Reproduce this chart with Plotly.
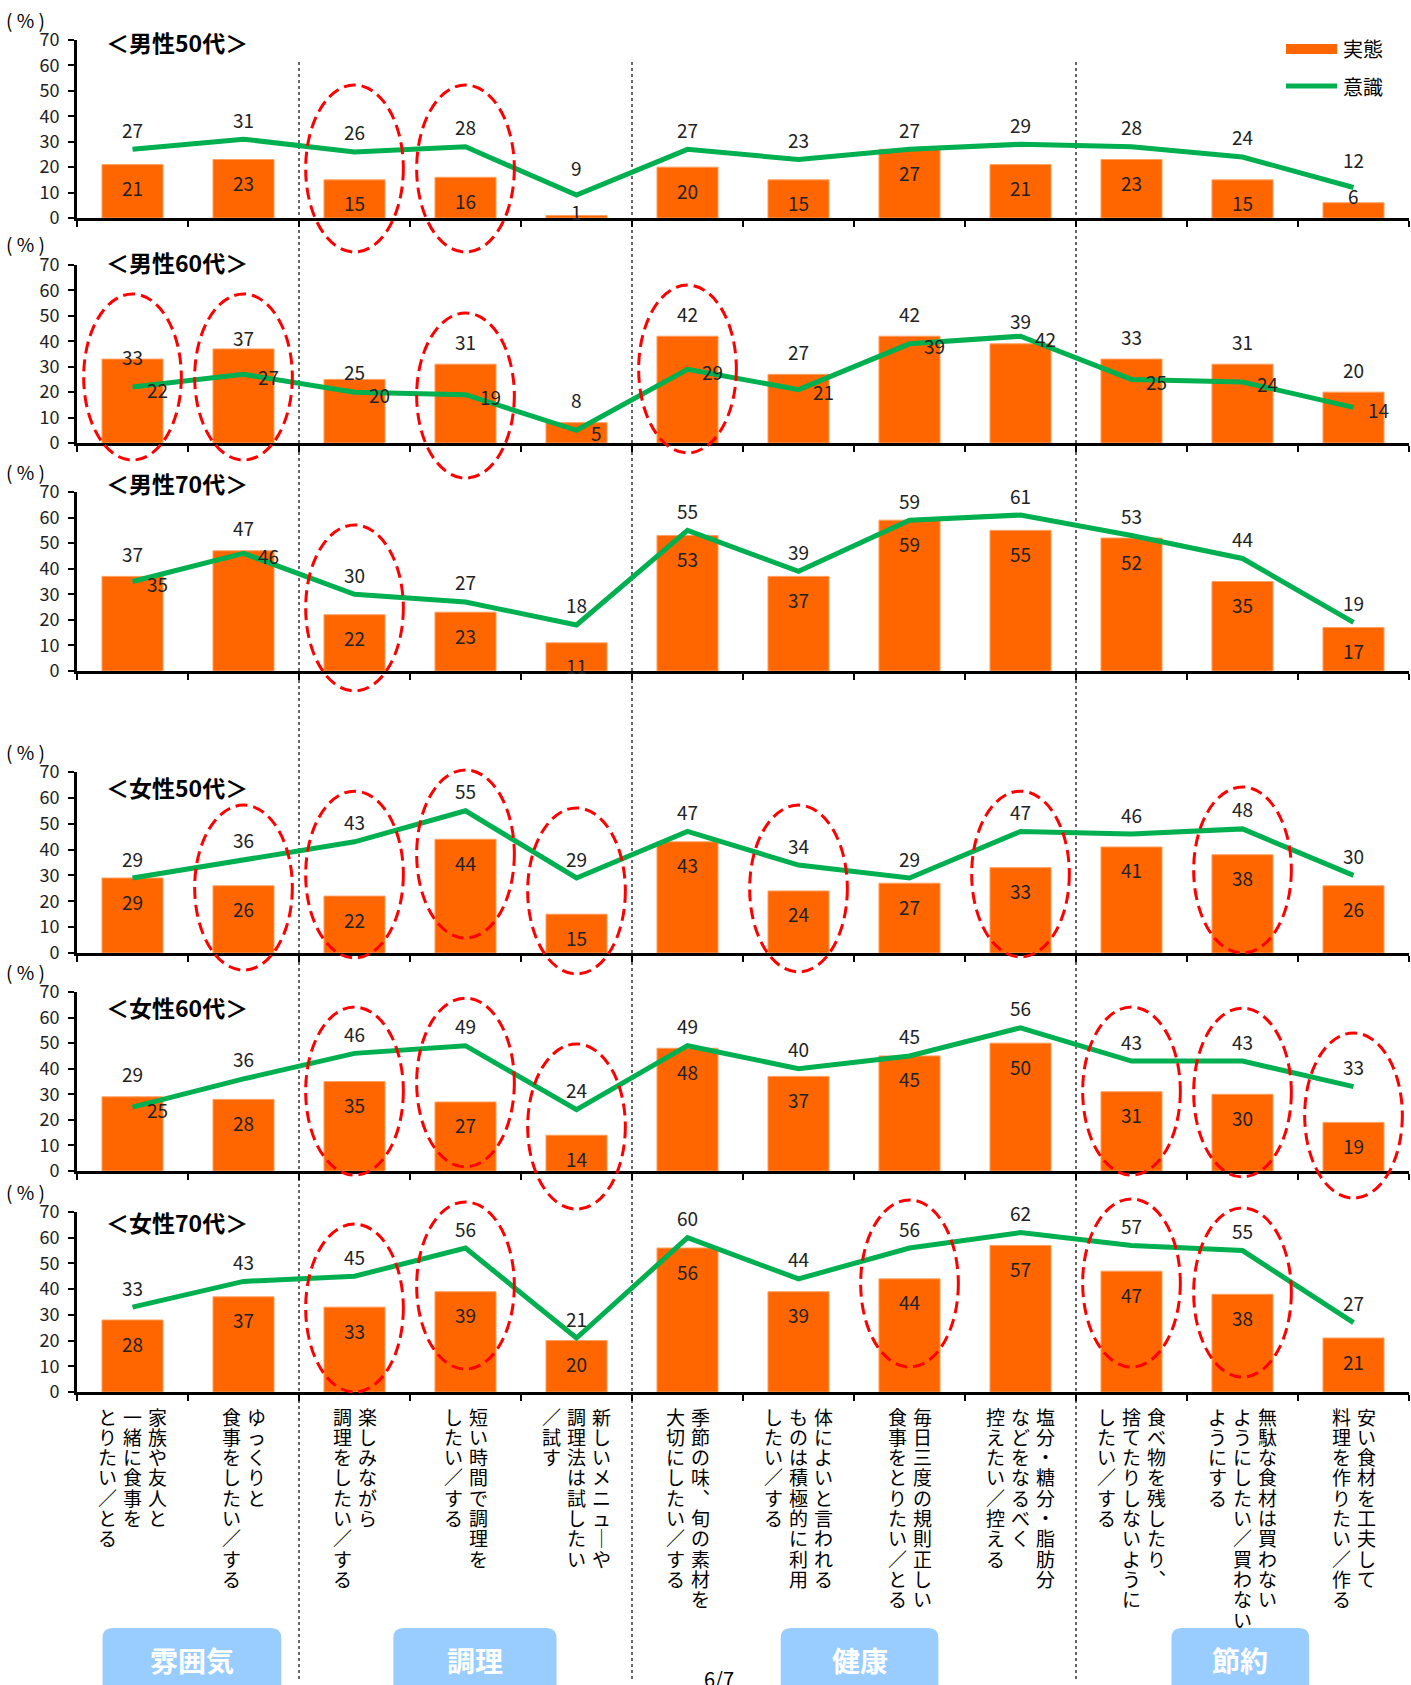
import plotly.graph_objects as go

W, H = 1411, 1685
FONT = "Noto Sans CJK JP"
ORANGE = "#FF6600"
GREEN = "#00B050"
RED = "#FF0000"
BOXBLUE = "#99CCFF"

# ---------------- data ----------------
CATEGORY_LINES = [
    ["家族や友人と", "一緒に食事を", "とりたい／とる"],
    ["ゆっくりと", "食事をしたい／する"],
    ["楽しみながら", "調理をしたい／する"],
    ["短い時間で調理を", "したい／する"],
    ["新しいメニューや", "調理法は試したい", "／試す"],
    ["季節の味、旬の素材を", "大切にしたい／する"],
    ["体によいと言われる", "ものは積極的に利用", "したい／する"],
    ["毎日三度の規則正しい", "食事をとりたい／とる"],
    ["塩分・糖分・脂肪分", "などをなるべく", "控えたい／控える"],
    ["食べ物を残したり、", "捨てたりしないように", "したい／する"],
    ["無駄な食材は買わない", "ようにしたい／買わない", "ようにする"],
    ["安い食材を工夫して", "料理を作りたい／作る"],
]
GROUP_NAMES = ["雰囲気", "調理", "健康", "節約"]
PANEL_TITLES = ["＜男性50代＞", "＜男性60代＞", "＜男性70代＞",
                "＜女性50代＞", "＜女性60代＞", "＜女性70代＞"]
SERIES_NAMES = ["実態", "意識"]
Y_TICKS = [0, 10, 20, 30, 40, 50, 60, 70]

ACTUAL_M50 = [21, 23, 15, 16, 1, 20, 15, 27, 21, 23, 15, 6]
INTENT_M50 = [27, 31, 26, 28, 9, 27, 23, 27, 29, 28, 24, 12]
ACTUAL_M60 = [33, 37, 25, 31, 8, 42, 27, 42, 39, 33, 31, 20]
INTENT_M60 = [22, 27, 20, 19, 5, 29, 21, 39, 42, 25, 24, 14]
ACTUAL_M70 = [37, 47, 22, 23, 11, 53, 37, 59, 55, 52, 35, 17]
INTENT_M70 = [35, 46, 30, 27, 18, 55, 39, 59, 61, 53, 44, 19]
ACTUAL_F50 = [29, 26, 22, 44, 15, 43, 24, 27, 33, 41, 38, 26]
INTENT_F50 = [29, 36, 43, 55, 29, 47, 34, 29, 47, 46, 48, 30]
ACTUAL_F60 = [29, 28, 35, 27, 14, 48, 37, 45, 50, 31, 30, 19]
INTENT_F60 = [25, 36, 46, 49, 24, 49, 40, 45, 56, 43, 43, 33]
ACTUAL_F70 = [28, 37, 33, 39, 20, 56, 39, 44, 57, 47, 38, 21]
INTENT_F70 = [33, 43, 45, 56, 21, 60, 44, 56, 62, 57, 55, 27]

ACTUAL = [ACTUAL_M50, ACTUAL_M60, ACTUAL_M70, ACTUAL_F50, ACTUAL_F60, ACTUAL_F70]
INTENT = [INTENT_M50, INTENT_M60, INTENT_M70, INTENT_F50, INTENT_F60, INTENT_F70]

# ---------------- styling / layout constants ----------------
PANEL_PX = [(40, 218), (265, 443), (492, 671), (772, 953), (992, 1171), (1212, 1392)]
TITLE_PY = [42, 262, 483, 787, 1007, 1222]
X0PX, X1PX = 77, 1409
GROUP_DIVIDERS = [1.5, 4.5, 8.5]
GROUP_BOX = [(-0.27, 1.34), (2.35, 3.82), (5.84, 7.26), (9.36, 10.6)]

# categories whose labels sit "bar above / line right"
LABEL_RIGHT = {1: list(range(12)), 2: [0, 1], 4: [0]}
BAR_ABOVE_SHIFT = {(1, 0): 3, (1, 1): 11, (1, 2): 8}
LINE_ABOVE_SHIFT = {(0, 4): 28, (0, 11): 28}
BAR_SMALL_SHIFT = {(0, 4): 4, (0, 11): 7}

# highlight ellipses per panel: (category, top, bottom) in panel value units
ELLIPSES = [
    [(2, 52.3, -13.4), (3, 52.3, -13.4)],
    [(0, 58.6, -6.7), (1, 58.6, -6.7), (3, 51.1, -13.8), (5, 62.1, -3.9)],
    [(2, 57.1, -7.8)],
    [(1, 57.2, -6.6), (2, 62.6, -1.9), (3, 70.8, 5.8), (4, 56.1, -8.1),
     (6, 57.2, -7.3), (8, 62.6, -1.5), (10, 64.2, 0)],
    [(2, 64.1, -1.6), (3, 67.6, 1.6), (4, 49.7, -14.9), (9, 64.1, -1.6),
     (10, 63.7, -2.3), (11, 54.0, -10.6)],
    [(2, 65.3, 0), (3, 73.9, 8.9), (7, 74.7, 9.7), (9, 75.1, 9.7), (10, 71.6, 5.8)],
]

VERT = {"ー": "｜", "、": "︑"}


def pyp(py):
    return 1 - py / H


def pxp(px):
    return px / W


def val_to_py(k, v):
    top, bot = PANEL_PX[k]
    return bot - v * (bot - top) / 70.0


fig = go.Figure()
layout = dict(width=W, height=H, autosize=False,
              margin=dict(l=0, r=0, t=0, b=0, pad=0, autoexpand=False),
              paper_bgcolor="white", plot_bgcolor="rgba(0,0,0,0)",
              showlegend=False, font=dict(family=FONT, color="#222"))
annotations = []
shapes = []
idx = list(range(len(CATEGORY_LINES)))

for k in range(6):
    n = k + 1
    xa = "x" if n == 1 else f"x{n}"
    ya = "y" if n == 1 else f"y{n}"
    top, bot = PANEL_PX[k]
    fig.add_trace(go.Bar(x=idx, y=ACTUAL[k], xaxis=xa, yaxis=ya, width=0.55,
                         marker=dict(color=ORANGE, line=dict(width=1, color="#FFA060")),
                         name=SERIES_NAMES[0], hoverinfo="skip"))
    fig.add_trace(go.Scatter(x=idx, y=INTENT[k], xaxis=xa, yaxis=ya, mode="lines",
                             line=dict(color=GREEN, width=5),
                             name=SERIES_NAMES[1], hoverinfo="skip"))
    layout["xaxis" if n == 1 else f"xaxis{n}"] = dict(
        domain=[pxp(X0PX), pxp(X1PX)], anchor=ya, range=[-0.5, 11.5],
        tickvals=[i - 0.5 for i in range(13)], showticklabels=False,
        ticks="outside", ticklen=6, tickwidth=2, tickcolor="black",
        showline=True, linewidth=3, linecolor="black", automargin=False,
        showgrid=False, zeroline=False, fixedrange=True)
    layout["yaxis" if n == 1 else f"yaxis{n}"] = dict(
        domain=[pyp(bot), pyp(top)], anchor=xa, range=[0, 70],
        tickvals=Y_TICKS, ticks="outside", ticklen=6, tickwidth=2,
        tickcolor="black", showline=True, linewidth=3, linecolor="black",
        showgrid=False, zeroline=False, fixedrange=True, automargin=False,
        ticklabelstandoff=5,
        tickfont=dict(size=18, color="#222", family=FONT))

    # panel title and unit
    annotations.append(dict(xref="paper", yref="paper", x=pxp(104), y=pyp(TITLE_PY[k]),
                            xanchor="left", yanchor="middle", showarrow=False,
                            text="<b>" + PANEL_TITLES[k] + "</b>",
                            font=dict(size=23, color="black", family=FONT)))
    annotations.append(dict(xref="paper", yref="paper", x=pxp(25), y=pyp(top - 21),
                            xanchor="center", yanchor="middle", showarrow=False,
                            text="( % )", font=dict(size=19, color="black", family=FONT)))

    right = LABEL_RIGHT.get(k, [])
    for i in idx:
        b = ACTUAL[k][i]
        s = INTENT[k][i]
        lf = dict(size=19, color="#222", family=FONT)
        if i in right:
            annotations.append(dict(xref=xa, yref=ya, x=i, y=b, showarrow=False,
                                    text=str(b), yanchor="middle",
                                    yshift=BAR_ABOVE_SHIFT.get((k, i), 23), font=lf))
            annotations.append(dict(xref=xa, yref=ya, x=i, y=s, showarrow=False,
                                    text=str(s), xanchor="left", yanchor="middle",
                                    xshift=12, yshift=-2, font=lf))
        else:
            annotations.append(dict(xref=xa, yref=ya, x=i, y=s, showarrow=False,
                                    text=str(s), yanchor="middle",
                                    yshift=LINE_ABOVE_SHIFT.get((k, i), 20), font=lf))
            annotations.append(dict(xref=xa, yref=ya, x=i, y=b, showarrow=False,
                                    text=str(b), yanchor="middle",
                                    yshift=(BAR_SMALL_SHIFT.get((k, i), 9) if b < 8 else -23),
                                    font=lf))

    # highlight ellipses
    for (ci, vt, vb) in ELLIPSES[k]:
        shapes.append(dict(type="circle", xref=xa, yref="paper",
                           x0=ci - 0.44, x1=ci + 0.44,
                           y0=pyp(val_to_py(k, vb)), y1=pyp(val_to_py(k, vt)),
                           line=dict(color=RED, width=3, dash="12px,6px"),
                           layer="above"))

# group divider lines
for d in GROUP_DIVIDERS:
    shapes.append(dict(type="line", xref="x", yref="paper", x0=d, x1=d,
                       y0=pyp(62), y1=pyp(1680),
                       line=dict(color="black", width=1.2, dash="dot"), layer="below"))

# vertical category labels below the bottom panel
PITCH = 20.3
COLGAP = 25
for i, cols in enumerate(CATEGORY_LINES):
    ncol = len(cols)
    for c, line in enumerate(cols):
        xs = COLGAP * ((ncol - 1) / 2 - c)
        for j, ch in enumerate(line):
            annotations.append(dict(xref="x6", yref="paper", x=i, y=pyp(1416 + j * PITCH),
                                    xshift=xs, xanchor="center", yanchor="middle",
                                    showarrow=False, text=VERT.get(ch, ch),
                                    font=dict(size=19, color="black", family=FONT)))

# group boxes
for g, (a, b) in enumerate(GROUP_BOX):
    rx = 10 / 111.0
    ytop = pyp(1628)
    ybot = pyp(1705)
    ry = 10 / H
    path = (f"M {a + rx},{ytop} L {b - rx},{ytop} Q {b},{ytop} {b},{ytop - ry} "
            f"L {b},{ybot} L {a},{ybot} L {a},{ytop - ry} Q {a},{ytop} {a + rx},{ytop} Z")
    shapes.append(dict(type="path", xref="x6", yref="paper", path=path,
                       fillcolor=BOXBLUE, line=dict(width=0), layer="above"))
    annotations.append(dict(xref="x6", yref="paper", x=(a + b) / 2, y=pyp(1660),
                            showarrow=False, xanchor="center", yanchor="middle",
                            text="<b>" + GROUP_NAMES[g] + "</b>",
                            font=dict(size=28, color="white", family=FONT)))

# manual legend
shapes.append(dict(type="rect", xref="paper", yref="paper",
                   x0=pxp(1286), x1=pxp(1337), y0=pyp(54), y1=pyp(44),
                   fillcolor=ORANGE, line=dict(width=0)))
shapes.append(dict(type="line", xref="paper", yref="paper",
                   x0=pxp(1286), x1=pxp(1337), y0=pyp(86), y1=pyp(86),
                   line=dict(color=GREEN, width=5)))
for t, py in zip(SERIES_NAMES, [49, 86]):
    annotations.append(dict(xref="paper", yref="paper", x=pxp(1341), y=pyp(py),
                            xanchor="left", yanchor="middle", showarrow=False, text=t,
                            font=dict(size=20, color="black", family=FONT)))

# page number
annotations.append(dict(xref="paper", yref="paper", x=pxp(719), y=pyp(1662),
                        xanchor="center", yanchor="top", showarrow=False, text="6/7",
                        font=dict(size=20, color="black", family=FONT)))

layout["annotations"] = annotations
layout["shapes"] = shapes
fig.update_layout(**layout)

fig.write_html("out.html", config={"displayModeBar": False, "responsive": False},
               post_script="document.body.style.margin='0';")
